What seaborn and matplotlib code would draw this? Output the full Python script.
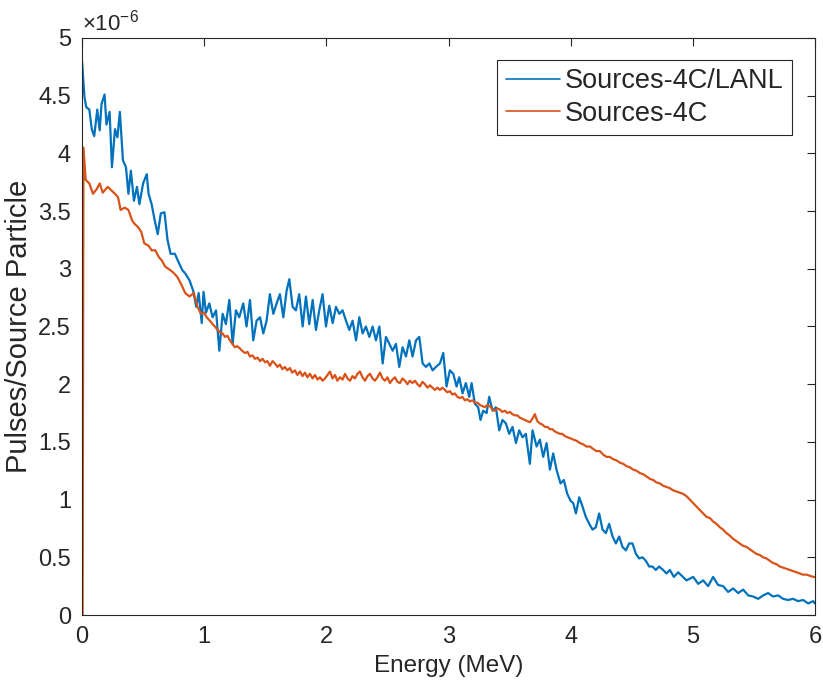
import matplotlib
matplotlib.use("Agg")
import matplotlib.pyplot as plt
from matplotlib.ticker import FuncFormatter, MultipleLocator
import seaborn as sns
import pandas as pd

# Energy (MeV) and pulses per source particle (in units of 1e-6)
energy_lanl = [0.0, 0.02, 0.035, 0.06, 0.08, 0.10, 0.125, 0.145, 0.16, 0.185, 0.20, 0.226, 0.245, 0.27, 0.29, 0.31,
               0.335, 0.36, 0.38, 0.40, 0.425, 0.45, 0.47, 0.50, 0.53, 0.545, 0.57, 0.595, 0.62, 0.645, 0.675, 0.70,
               0.725, 0.76, 0.785, 0.82, 0.845, 0.88, 0.91, 0.935, 0.955, 0.98, 0.995, 1.015, 1.042, 1.069, 1.097,
               1.124, 1.151, 1.178, 1.206, 1.233, 1.260, 1.287, 1.320, 1.347, 1.375, 1.402, 1.429, 1.457, 1.484,
               1.511, 1.538, 1.566, 1.593, 1.620, 1.648, 1.675, 1.697, 1.724, 1.751, 1.778, 1.806, 1.833, 1.860,
               1.888, 1.915, 1.942, 1.969, 1.997, 2.024, 2.052, 2.079, 2.106, 2.133, 2.161, 2.188, 2.215, 2.243,
               2.270, 2.297, 2.324, 2.352, 2.379, 2.406, 2.434, 2.461, 2.488, 2.515, 2.543, 2.570, 2.597, 2.624,
               2.652, 2.679, 2.706, 2.734, 2.761, 2.788, 2.815, 2.843, 2.870, 2.897, 2.930, 2.957, 2.984, 3.011,
               3.039, 3.066, 3.088, 3.115, 3.142, 3.170, 3.189, 3.216, 3.243, 3.262, 3.284, 3.312, 3.333, 3.361,
               3.388, 3.415, 3.442, 3.470, 3.497, 3.524, 3.552, 3.579, 3.606, 3.633, 3.666, 3.688, 3.721, 3.748,
               3.775, 3.803, 3.830, 3.857, 3.884, 3.917, 3.944, 3.972, 3.999, 4.021, 4.043, 4.070, 4.097, 4.124,
               4.152, 4.179, 4.206, 4.233, 4.261, 4.288, 4.315, 4.343, 4.370, 4.397, 4.424, 4.452, 4.479, 4.506,
               4.534, 4.561, 4.588, 4.615, 4.643, 4.670, 4.697, 4.724, 4.757, 4.784, 4.812, 4.845, 4.880, 4.948,
               5.003, 5.044, 5.085, 5.125, 5.166, 5.207, 5.248, 5.289, 5.330, 5.371, 5.412, 5.453, 5.494, 5.535,
               5.576, 5.616, 5.657, 5.698, 5.739, 5.780, 5.821, 5.862, 5.903, 5.944, 5.985, 6.0]
pulses_lanl = [4.80, 4.49, 4.40, 4.38, 4.21, 4.15, 4.38, 4.20, 4.43, 4.51, 4.25, 4.36, 3.88, 4.21, 4.14, 4.36,
               3.94, 3.88, 3.65, 3.85, 3.59, 3.71, 3.56, 3.74, 3.82, 3.65, 3.56, 3.42, 3.30, 3.48, 3.49, 3.25,
               3.13, 3.13, 3.07, 2.99, 2.96, 2.90, 2.81, 2.67, 2.79, 2.53, 2.80, 2.62, 2.70, 2.58, 2.64,
               2.29, 2.61, 2.52, 2.73, 2.35, 2.64, 2.58, 2.70, 2.50, 2.73, 2.38, 2.55, 2.58, 2.44,
               2.55, 2.78, 2.61, 2.70, 2.78, 2.58, 2.81, 2.91, 2.67, 2.64, 2.78, 2.50, 2.76, 2.52,
               2.73, 2.47, 2.64, 2.78, 2.50, 2.68, 2.53, 2.67, 2.61, 2.64, 2.55, 2.47, 2.55, 2.38,
               2.58, 2.44, 2.50, 2.41, 2.50, 2.38, 2.50, 2.18, 2.41, 2.35, 2.29, 2.35, 2.15, 2.32,
               2.24, 2.38, 2.24, 2.38, 2.41, 2.18, 2.15, 2.18, 2.12, 2.15, 2.18, 2.27, 1.98, 2.12,
               2.09, 1.98, 2.06, 1.92, 2.01, 1.89, 2.01, 1.83, 1.80, 1.69, 1.77, 1.75, 1.89, 1.77,
               1.80, 1.60, 1.69, 1.66, 1.57, 1.63, 1.49, 1.60, 1.54, 1.57, 1.31, 1.60, 1.46, 1.52,
               1.37, 1.49, 1.26, 1.40, 1.26, 1.14, 1.17, 1.05, 0.99, 0.97, 0.88, 1.02, 0.94, 0.85,
               0.79, 0.74, 0.76, 0.88, 0.74, 0.71, 0.79, 0.68, 0.62, 0.68, 0.59, 0.56, 0.62, 0.62,
               0.53, 0.49, 0.50, 0.47, 0.42, 0.42, 0.39, 0.42, 0.39, 0.36, 0.39, 0.33, 0.37, 0.30,
               0.33, 0.27, 0.30, 0.25, 0.33, 0.26, 0.25, 0.20, 0.23, 0.19, 0.22, 0.17, 0.16, 0.14,
               0.17, 0.19, 0.16, 0.17, 0.14, 0.13, 0.14, 0.12, 0.13, 0.10, 0.12, 0.10]

energy_4c = [0.005, 0.012, 0.03, 0.06, 0.09, 0.12, 0.145, 0.17, 0.21, 0.24, 0.27, 0.295, 0.316, 0.35, 0.38, 0.41,
             0.43, 0.46, 0.485, 0.51, 0.545, 0.57, 0.60, 0.63, 0.655, 0.68, 0.72, 0.745, 0.78, 0.81, 0.845, 0.88,
             0.915, 0.945, 0.975, 1.0, 1.02, 1.047, 1.07, 1.088, 1.11, 1.129, 1.15, 1.17, 1.19, 1.211, 1.23, 1.252,
             1.27, 1.293, 1.31, 1.334, 1.355, 1.375, 1.395, 1.416, 1.437, 1.457, 1.478, 1.498, 1.518, 1.538, 1.56,
             1.579, 1.60, 1.62, 1.64, 1.661, 1.68, 1.702, 1.72, 1.743, 1.763, 1.784, 1.805, 1.825, 1.845, 1.866,
             1.887, 1.907, 1.928, 1.948, 1.969, 1.989, 2.010, 2.030, 2.05, 2.071, 2.09, 2.112, 2.133, 2.153, 2.173,
             2.194, 2.214, 2.234, 2.255, 2.275, 2.296, 2.316, 2.337, 2.357, 2.378, 2.398, 2.418, 2.439, 2.46, 2.48,
             2.50, 2.521, 2.541, 2.562, 2.582, 2.603, 2.623, 2.644, 2.664, 2.684, 2.705, 2.725, 2.746, 2.766,
             2.787, 2.807, 2.828, 2.848, 2.869, 2.889, 2.91, 2.93, 2.95, 2.971, 2.99, 3.011, 3.032, 3.052, 3.073,
             3.093, 3.114, 3.134, 3.155, 3.175, 3.196, 3.216, 3.237, 3.257, 3.278, 3.298, 3.319, 3.339, 3.36,
             3.38, 3.40, 3.421, 3.44, 3.462, 3.482, 3.502, 3.523, 3.543, 3.564, 3.584, 3.605, 3.625, 3.645,
             3.666, 3.686, 3.707, 3.727, 3.748, 3.768, 3.789, 3.81, 3.83, 3.85, 3.871, 3.89, 3.912, 3.93, 3.953,
             3.975, 4.0, 4.021, 4.048, 4.075, 4.10, 4.13, 4.157, 4.184, 4.21, 4.239, 4.266, 4.294, 4.32, 4.348,
             4.375, 4.403, 4.43, 4.457, 4.485, 4.512, 4.54, 4.566, 4.594, 4.621, 4.648, 4.675, 4.70, 4.73, 4.757,
             4.784, 4.81, 4.839, 4.866, 4.894, 4.92, 4.948, 4.975, 5.003, 5.03, 5.057, 5.085, 5.112, 5.14, 5.166,
             5.194, 5.221, 5.248, 5.275, 5.30, 5.33, 5.357, 5.385, 5.41, 5.439, 5.466, 5.494, 5.52, 5.548, 5.575,
             5.603, 5.63, 5.657, 5.685, 5.712, 5.74, 5.766, 5.795, 5.821, 5.85, 5.876, 5.90, 5.93, 5.957, 5.985,
             6.0]
pulses_4c = [0.0, 4.05, 3.77, 3.74, 3.65, 3.69, 3.74, 3.66, 3.71, 3.68, 3.65, 3.62, 3.51, 3.53, 3.51, 3.42,
             3.39, 3.36, 3.32, 3.22, 3.20, 3.16, 3.16, 3.10, 3.07, 3.02, 2.99, 2.97, 2.93, 2.87, 2.79, 2.76,
             2.79, 2.67, 2.61, 2.62, 2.58, 2.55, 2.52, 2.50, 2.47, 2.45, 2.44, 2.41, 2.42, 2.38, 2.35, 2.32,
             2.33, 2.31, 2.29, 2.27, 2.28, 2.24, 2.25, 2.22, 2.23, 2.20, 2.22, 2.19, 2.20, 2.16, 2.20,
             2.18, 2.15, 2.17, 2.13, 2.15, 2.12, 2.14, 2.10, 2.12, 2.08, 2.11, 2.07, 2.10, 2.06, 2.09,
             2.05, 2.08, 2.04, 2.06, 2.03, 2.05, 2.08, 2.11, 2.05, 2.08, 2.03, 2.06, 2.04, 2.09, 2.05,
             2.03, 2.07, 2.05, 2.09, 2.11, 2.06, 2.03, 2.07, 2.09, 2.05, 2.03, 2.06, 2.10, 2.05, 2.03,
             2.06, 2.01, 2.04, 2.06, 2.02, 2.01, 2.05, 2.03, 2.00, 2.03, 2.01, 2.03, 2.00, 1.98,
             2.02, 2.00, 1.97, 1.99, 1.97, 1.95, 1.97, 1.95, 1.97, 1.95, 1.93, 1.94, 1.91, 1.92, 1.89,
             1.88, 1.89, 1.86, 1.87, 1.85, 1.86, 1.84, 1.84, 1.82, 1.81, 1.80, 1.82, 1.81, 1.78,
             1.77, 1.79, 1.78, 1.76, 1.77, 1.75, 1.76, 1.74, 1.73, 1.73, 1.71, 1.70, 1.69, 1.68,
             1.67, 1.70, 1.74, 1.68, 1.66, 1.65, 1.63, 1.63, 1.61, 1.61, 1.59, 1.58, 1.57, 1.57, 1.55,
             1.54, 1.53, 1.52, 1.51, 1.49, 1.48, 1.46, 1.46, 1.44, 1.42, 1.42, 1.39, 1.37, 1.37, 1.35,
             1.34, 1.32, 1.31, 1.29, 1.28, 1.26, 1.25, 1.23, 1.22, 1.20, 1.18, 1.17, 1.15, 1.14, 1.12,
             1.11, 1.10, 1.08, 1.07, 1.06, 1.05, 1.03, 1.00, 0.97, 0.94, 0.91, 0.88, 0.85, 0.84, 0.81,
             0.79, 0.76, 0.74, 0.71, 0.69, 0.66, 0.64, 0.62, 0.60, 0.59, 0.57, 0.55, 0.53, 0.52, 0.50,
             0.49, 0.47, 0.45, 0.44, 0.42, 0.41, 0.40, 0.39, 0.38, 0.37, 0.36, 0.35, 0.35, 0.34, 0.33,
             0.33]

series_names = ["Sources-4C/LANL", "Sources-4C"]
series_colors = ["#0072BD", "#D95319"]
x_ticks = [0, 1, 2, 3, 4, 5, 6]

df = pd.concat([
    pd.DataFrame({"energy": energy_lanl, "pulses": pulses_lanl, "source": series_names[0]}),
    pd.DataFrame({"energy": energy_4c, "pulses": pulses_4c, "source": series_names[1]}),
], ignore_index=True)

sns.set_theme(style="white")
plt.rcParams["font.family"] = ["Liberation Sans", "DejaVu Sans"]
plt.rcParams["mathtext.fontset"] = "custom"
plt.rcParams["mathtext.rm"] = "Liberation Sans"
plt.rcParams["mathtext.it"] = "Liberation Sans:italic"

fig = plt.figure(figsize=(8.23, 6.91), dpi=100)
ax = fig.add_axes([82 / 823, 76 / 691, 733 / 823, 577 / 691])

sns.lineplot(data=df, x="energy", y="pulses", hue="source", hue_order=series_names,
             palette=series_colors, estimator=None, sort=False, linewidth=1.6, ax=ax)

ax.set_xlim(0, 6)
ax.set_ylim(0, 5)
ax.set_xticks(x_ticks)
ax.yaxis.set_major_locator(MultipleLocator(0.5))
ax.yaxis.set_major_formatter(FuncFormatter(lambda v, p: f"{v:g}"))
ax.xaxis.set_major_formatter(FuncFormatter(lambda v, p: f"{v:g}"))

dark = "#262626"
for s in ax.spines.values():
    s.set_color(dark)
    s.set_linewidth(0.8)
    s.set_visible(True)
ax.tick_params(direction="in", top=True, right=True, length=6, width=0.8,
               colors=dark, labelcolor=dark, labelsize=17)
ax.tick_params(axis="x", pad=8)
ax.tick_params(axis="y", pad=8)

ax.set_xlabel("Energy (MeV)", fontsize=17.5, color=dark, labelpad=5)
ax.set_ylabel("Pulses/Source Particle", fontsize=21, color=dark, labelpad=4)
ax.text(0.0, 1.004, r"$\mathregular{\times10^{-6}}$", transform=ax.transAxes,
        ha="left", va="bottom", fontsize=16, color=dark)

leg = ax.legend(loc="upper right", bbox_to_anchor=(0.9686, 0.962), borderaxespad=0,
                fontsize=19.5, frameon=True, fancybox=False, framealpha=1,
                edgecolor=dark, handlelength=2.0, handletextpad=0.2,
                borderpad=0.3, labelspacing=0.25, title=None)
leg.get_frame().set_linewidth(0.8)
for h in leg.get_lines():
    h.set_linewidth(1.2)

fig.savefig("out.png", dpi=100)
